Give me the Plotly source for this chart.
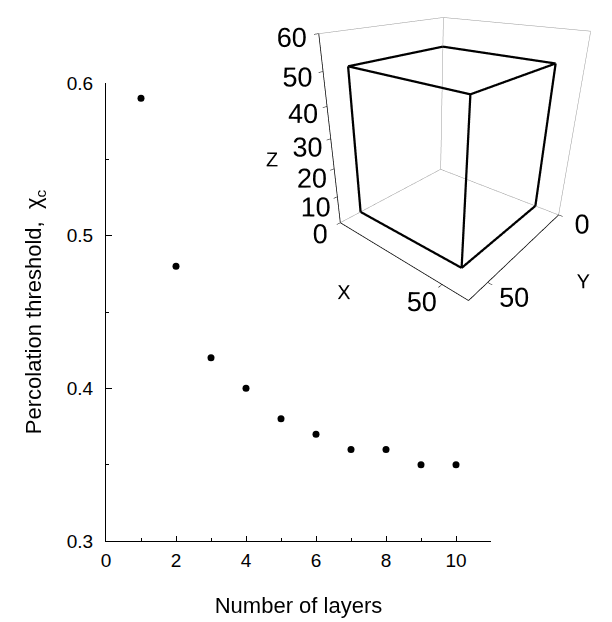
import plotly.graph_objects as go

# ---- data ----
layers = [1, 2, 3, 4, 5, 6, 7, 8, 9, 10]
threshold = [0.59, 0.48, 0.42, 0.40, 0.38, 0.37, 0.36, 0.36, 0.35, 0.35]
x_tick_vals = [0, 2, 4, 6, 8, 10]
y_tick_vals = [0.3, 0.4, 0.5, 0.6]

# inset: simulation box (cube) inside a 0..60 axes box
cube_size = 50
box_range = 60
z_tick_vals = [0, 10, 20, 30, 40, 50, 60]
x3_tick_vals = [50]
y3_tick_vals = [0, 50]

FONT = "Liberation Sans, Arial, sans-serif"

W, H = 612, 622
# main plot area in pixels
L, R, T, B = 106, 491, 83, 541

fig = go.Figure()

fig.add_trace(go.Scatter(
    x=layers, y=threshold, mode="markers",
    marker=dict(color="black", size=7),
    showlegend=False, hoverinfo="skip",
))


def seg_lines(segments):
    xs, ys, zs = [], [], []
    for a, b in segments:
        xs += [a[0], b[0], None]
        ys += [a[1], b[1], None]
        zs += [a[2], b[2], None]
    return xs, ys, zs


Rb = box_range
S = cube_size
back_edges = [
    ((0, 0, 0), (Rb, 0, 0)), ((0, 0, 0), (0, Rb, 0)), ((0, 0, 0), (0, 0, Rb)),
    ((0, 0, Rb), (Rb, 0, Rb)), ((0, 0, Rb), (0, Rb, Rb)), ((0, Rb, 0), (0, Rb, Rb)),
]
front_edges = [
    ((Rb, 0, 0), (Rb, Rb, 0)), ((Rb, Rb, 0), (0, Rb, 0)), ((Rb, 0, 0), (Rb, 0, Rb)),
]
cube_edges = [
    ((0, 0, S), (S, 0, S)), ((S, 0, S), (S, S, S)), ((S, S, S), (0, S, S)), ((0, S, S), (0, 0, S)),
    ((S, 0, 0), (S, 0, S)), ((S, S, 0), (S, S, S)), ((0, S, 0), (0, S, S)),
    ((S, 0, 0), (S, S, 0)), ((S, S, 0), (0, S, 0)),
]

for edges, col, wd in [(back_edges, "#999999", 1), (front_edges, "black", 1.5), (cube_edges, "black", 4.5)]:
    xs, ys, zs = seg_lines(edges)
    fig.add_trace(go.Scatter3d(
        x=xs, y=ys, z=zs, mode="lines",
        line=dict(color=col, width=wd),
        showlegend=False, hoverinfo="skip", connectgaps=False,
    ))

ax3 = dict(
    range=[0, box_range], autorange=False,
    showbackground=False, showgrid=False, zeroline=False,
    showline=False, showspikes=False,
    ticks="outside", ticklen=4, tickcolor="black",
    tickangle=0,
    tickfont=dict(family=FONT, size=18, color="black"),
    title_font=dict(family=FONT, size=20, color="black"),
)

fig.update_layout(
    width=W, height=H,
    margin=dict(l=0, r=0, t=0, b=0),
    paper_bgcolor="white", plot_bgcolor="white",
    font=dict(family=FONT, color="black"),
    xaxis=dict(
        domain=[L / W, R / W], range=[0, 11],
        showline=True, linecolor="black", linewidth=1.3,
        ticks="inside", ticklen=5, tickwidth=1, tickcolor="black",
        tickvals=x_tick_vals,
        minor=dict(dtick=1, tick0=0, ticks="inside", ticklen=3, tickcolor="black"),
        showgrid=False, zeroline=False,
        tickfont=dict(family=FONT, size=19),
        ticklabelstandoff=2,
        title=dict(text="Number of layers", font=dict(family=FONT, size=22), standoff=27),
        automargin=False,
    ),
    yaxis=dict(
        domain=[(H - B) / H, (H - T) / H], range=[0.3, 0.6],
        showline=True, linecolor="black", linewidth=1.3,
        ticks="inside", ticklen=6, tickwidth=1, tickcolor="black",
        tickvals=y_tick_vals, tickformat=".1f",
        minor=dict(dtick=0.05, tick0=0.3, ticks="inside", ticklen=3, tickcolor="black"),
        showgrid=False, zeroline=False,
        tickfont=dict(family=FONT, size=19),
        ticklabelstandoff=8,
        title=dict(text="Percolation threshold,  χ<sub>c</sub>", font=dict(family=FONT, size=22), standoff=18),
        automargin=False,
    ),
    scene=dict(
        domain=dict(x=[240 / W, 1.0], y=[(H - 330) / H, 1.0]),
        aspectmode="manual",
        aspectratio=dict(x=1, y=1, z=1.15),
        xaxis=dict(ax3, tickvals=y3_tick_vals, title=dict(text="Y")),
        yaxis=dict(ax3, tickvals=x3_tick_vals, title=dict(text="X")),
        zaxis=dict(ax3, tickvals=z_tick_vals, title=dict(text="Z")),
        camera=dict(eye=dict(x=1.72, y=1.3, z=0.87), center=dict(x=0.075, y=-0.15, z=-0.21)),
        bgcolor="rgba(0,0,0,0)",
    ),
)

fig.write_html("out.html", post_script="document.body.style.margin='0';",
               config={"displayModeBar": False})
